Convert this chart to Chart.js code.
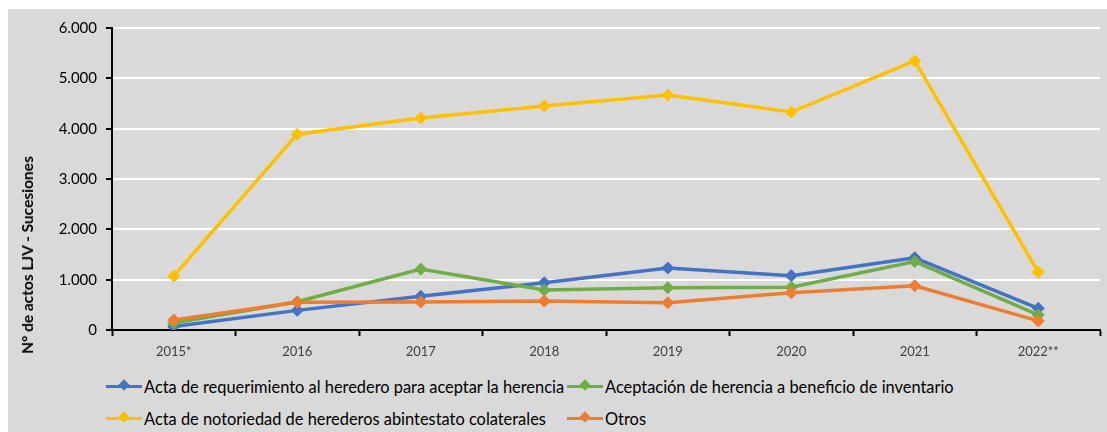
<!DOCTYPE html>
<html>
<head>
<meta charset="utf-8">
<script src="https://cdn.jsdelivr.net/npm/chart.js@4"></script>
<style>
  html, body { margin: 0; padding: 0; background: #fff; }
  #frame { position: absolute; left: 8px; top: 9px; width: 1099px; height: 423px; background: #d9d9d9; }
  #wrap { position: absolute; left: 0; top: 0; width: 1099px; height: 352px; }
  #ytitle { position: absolute; left: 19px; top: 246px; transform: translate(-50%, -50%) rotate(-90deg);
            white-space: nowrap; font: bold 15.5px Lato, sans-serif; color: #000; }
  #legend { position: absolute; left: 98px; top: 361px; display: grid;
            grid-template-columns: 461px auto; row-gap: 0; font: 16.4px Lato, sans-serif; color: #000; }
  .item { display: flex; align-items: center; height: 32px; white-space: nowrap; }
  .mk { position: relative; width: 36px; height: 10px; margin-right: 2px; }
  .mk .ln { position: absolute; left: 0; right: 0; top: 3.5px; height: 3px; }
  .mk .dm { position: absolute; left: 14px; top: 0; width: 8px; height: 8px; transform: rotate(45deg); }
</style>
</head>
<body>
<div id="frame">
  <div id="wrap"><canvas id="chart"></canvas></div>
  <div id="ytitle">Nº de actos LJV - Sucesiones</div>
  <div id="legend"></div>
</div>
<script>
/* categories and series */
const years = ['2015*', '2016', '2017', '2018', '2019', '2020', '2021', '2022**'];

const requerimiento = [70, 390, 670, 940, 1230, 1080, 1435, 430];
const aceptacion    = [140, 560, 1210, 795, 840, 850, 1360, 300];
const notoriedad    = [1070, 3890, 4210, 4450, 4670, 4330, 5345, 1150];
const otros         = [200, 550, 555, 575, 540, 740, 880, 180];

const names = [
  'Acta de requerimiento al heredero para aceptar la herencia',
  'Aceptación de herencia a beneficio de inventario',
  'Acta de notoriedad de herederos abintestato colaterales',
  'Otros'
];
const colours = ['#4472C4', '#70AD47', '#FFC000', '#ED7D31'];

const yTicks = [0, 1000, 2000, 3000, 4000, 5000, 6000];

/* "1.000" style thousands */
const fmt = v => String(v).replace(/\B(?=(\d{3})+(?!\d))/g, '.');

const series = [requerimiento, aceptacion, notoriedad, otros];
// excel draws later series on top; chart.js draws low "order" last
const drawOrder = [3, 2, 1, 0];

const datasets = series.map((data, i) => ({
  label: names[i],
  data,
  borderColor: colours[i],
  backgroundColor: colours[i],
  borderWidth: 3.5,
  pointStyle: 'rectRot',
  pointRadius: 6,
  pointHoverRadius: 6,
  pointBorderWidth: 1,
  tension: 0,
  order: drawOrder[i]
}));

new Chart(document.getElementById('chart'), {
  type: 'line',
  data: { labels: years, datasets },
  options: {
    responsive: true,
    maintainAspectRatio: false,
    animation: false,
    layout: { padding: { top: 19, right: 5, left: 0, bottom: 0 } },
    plugins: { legend: { display: false }, tooltip: { enabled: false } },
    scales: {
      x: {
        offset: true,
        grid: { offset: true, drawOnChartArea: false, drawTicks: true, tickLength: 6, tickColor: '#000', tickWidth: 2 },
        border: { color: '#000', width: 2 },
        ticks: { color: '#404040', font: { family: 'Lato', size: 13 }, padding: 8, maxRotation: 0 },
        afterFit: s => { s.height = 31; }
      },
      y: {
        min: 0, max: 6000,
        afterBuildTicks: s => { s.ticks = yTicks.map(v => ({ value: v })); },
        grid: { color: '#ffffff', lineWidth: 2, tickColor: '#000', tickLength: 6 },
        border: { color: '#000', width: 2 },
        ticks: { color: '#000', font: { family: 'Lato', size: 15 }, padding: 9, callback: v => fmt(v) },
        afterFit: s => { s.width = 104; }
      }
    }
  }
});

/* legend laid out in two aligned columns like the original */
const legend = document.getElementById('legend');
names.forEach((n, i) => {
  const el = document.createElement('div');
  el.className = 'item';
  el.innerHTML = `<span class="mk"><span class="ln" style="background:${colours[i]}"></span>` +
                 `<span class="dm" style="background:${colours[i]}"></span></span><span>${n}</span>`;
  legend.appendChild(el);
});
</script>
</body>
</html>
